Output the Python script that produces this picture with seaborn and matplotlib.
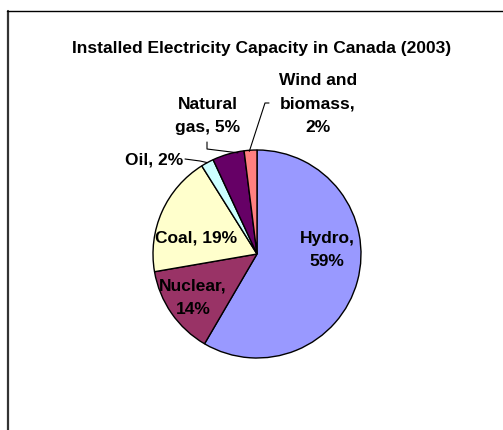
import numpy as np
import matplotlib
matplotlib.use("Agg")
import matplotlib.pyplot as plt
from matplotlib.lines import Line2D
import seaborn as sns

# ---- data ----
categories = ["Hydro", "Nuclear", "Coal", "Oil", "Natural gas", "Wind and biomass"]
values = [59, 14, 19, 2, 5, 2]
label_texts = ["Hydro,\n59%", "Nuclear,\n14%", "Coal, 19%", "Oil, 2%",
               "Natural\ngas, 5%", "Wind and\nbiomass,\n2%"]
title = "Installed Electricity Capacity in Canada (2003)"

colors = ["#9999FF", "#993366", "#FFFFCC", "#CCFFFF", "#660066", "#FF8080"]

sns.set_theme(style="white")
plt.rcParams["font.family"] = ["Liberation Sans", "DejaVu Sans"]

W, H = 503, 430
fig = plt.figure(figsize=(W / 100, H / 100), dpi=100)
fig.patch.set_facecolor("white")

# pie centre and radius in pixels
CX, CY, R = 257, 254, 104
ax = fig.add_axes([0, 0, 1, 1])


def pix(px, py):
    return (px - CX) / R, (CY - py) / R


wedges, _ = ax.pie(values, colors=colors, startangle=90, counterclock=False,
                   radius=1.0, center=(0, 0),
                   wedgeprops=dict(edgecolor="black", linewidth=1.0))
ax.set_aspect("auto")
ax.set_xlim(-CX / R, (W - CX) / R)
ax.set_ylim(-(H - CY) / R, CY / R)
ax.axis("off")

fs = 12.5
# label positions (pixel centres) and alignment
label_pos = [(327, 250), (193, 298), (196, 238), (183, 160), (208, 116), (318, 104)]
ha_list = ["center", "center", "center", "right", "center", "center"]
for txt, (px, py), ha in zip(label_texts, label_pos, ha_list):
    x, y = pix(px, py)
    ax.text(x, y, txt, ha=ha, va="center", fontsize=fs, fontweight="bold",
            linespacing=1.7, color="black")


def wedge_point(w, frac=0.5, r=1.0):
    ang = np.deg2rad(w.theta1 + (w.theta2 - w.theta1) * frac)
    return r * np.cos(ang), r * np.sin(ang)

# leader lines
# Oil
ox, oy = wedge_point(wedges[3], 0.5, 1.0)
a1, a2 = pix(185, 159), pix(200, 161)
ax.plot([a1[0], a2[0], ox], [a1[1], a2[1], oy], color="black", lw=0.8)
# Natural gas
gx, gy = wedge_point(wedges[4], 0.2, 0.99)
p1, p2 = pix(207, 142), pix(207, 149)
ax.plot([p1[0], p2[0], gx], [p1[1], p2[1], gy], color="black", lw=0.8)
# Wind and biomass
wx, wy = wedge_point(wedges[5], 0.6, 0.99)
q1, q2 = pix(269, 103), pix(265, 103)
ax.plot([q1[0], q2[0], wx], [q1[1], q2[1], wy], color="black", lw=0.8)

# title
tx, ty = pix(262, 48)
ax.text(tx, ty, title, ha="center", va="center", fontsize=fs, fontweight="bold",
        color="black")

# chart-area frame (top and left edges visible)
fig.add_artist(Line2D([7.5 / W, 7.5 / W], [0, 1 - 10.5 / H], transform=fig.transFigure,
                      color="#333333", lw=1.6))
fig.add_artist(Line2D([7 / W, 1], [1 - 10.5 / H, 1 - 10.5 / H], transform=fig.transFigure,
                      color="black", lw=1.0))

fig.savefig("out.png", dpi=100, facecolor="white")
